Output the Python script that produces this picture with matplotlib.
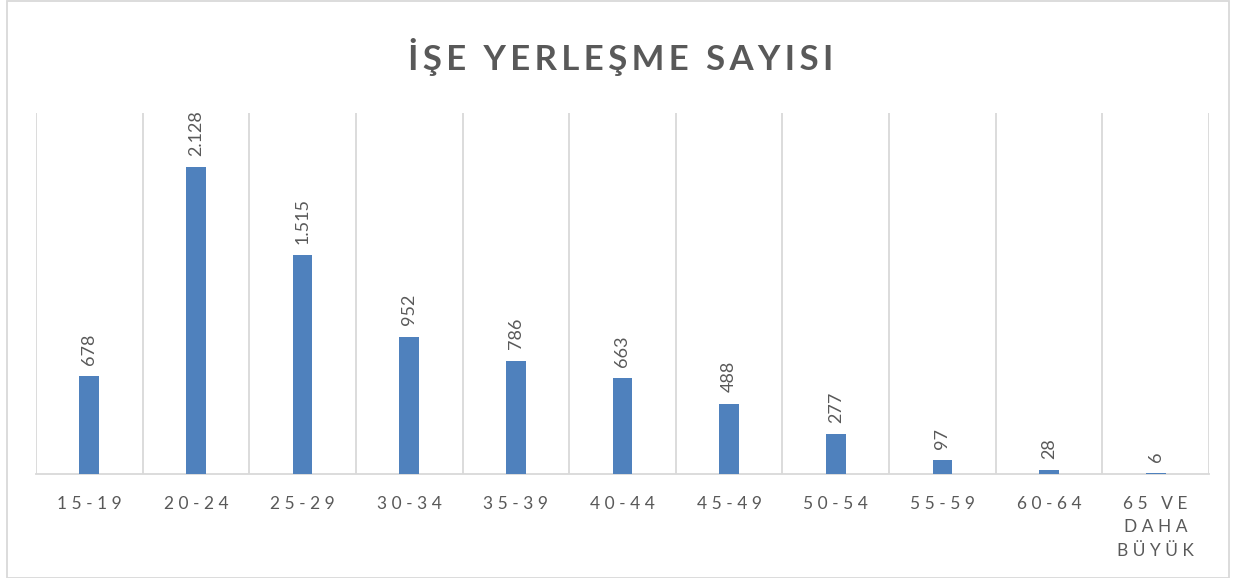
import matplotlib
matplotlib.use("Agg")
import matplotlib.pyplot as plt
from matplotlib.patches import Rectangle

categories = ["15-19", "20-24", "25-29", "30-34", "35-39", "40-44",
              "45-49", "50-54", "55-59", "60-64", "65 VE\nDAHA\nBÜYÜK"]
values = [678, 2128, 1515, 952, 786, 663, 488, 277, 97, 28, 6]
value_labels = ["678", "2.128", "1.515", "952", "786", "663", "488", "277", "97", "28", "6"]
title = "İŞE YERLEŞME SAYISI"

plt.rcParams['font.family'] = ['Lato', 'DejaVu Sans']
text_color = "#595959"
grid_color = "#D9D9D9"
bar_color = "#4F81BD"

def spaced(s, sep=" "):
    return "\n".join(sep.join(list(line)) for line in s.split("\n"))

fig = plt.figure(figsize=(12.38, 5.78), dpi=100)
W, H = 1238, 578
left, right, top, bottom = 36, 1209, 113, 474
ax = fig.add_axes([left / W, 1 - bottom / H, (right - left) / W, (bottom - top) / H])

x = list(range(len(categories)))
ax.bar(x, values, width=0.185, color=bar_color, zorder=3)
ax.set_xlim(-0.5, len(categories) - 0.5)
ax.set_ylim(0, 2500)

for i in range(len(categories) + 1):
    ax.axvline(i - 0.5, color=grid_color, lw=1.3, zorder=1)

for s in ["top", "right", "left"]:
    ax.spines[s].set_visible(False)
ax.spines["bottom"].set_color(grid_color)
ax.spines["bottom"].set_linewidth(1.3)
ax.set_yticks([])
ax.set_xticks(x)
ax.set_xticklabels([spaced(c) for c in categories], color=text_color,
                   fontsize=12.5, linespacing=1.55, va="top")
ax.tick_params(axis="x", length=0, pad=16)

for xi, v, lab in zip(x, values, value_labels):
    ax.annotate(lab, (xi, v), xytext=(0, 8), textcoords="offset points",
                rotation=90, ha="center", va="bottom", color=text_color,
                fontsize=13)

fig.text(621 / W, 1 - 57 / H, spaced(title, "\u2009"), ha="center", va="center",
         fontsize=25, fontweight="bold", color=text_color)

fig.patches.append(Rectangle((7 / W, 0), (1229 - 7) / W, 1 - 1 / H,
                             transform=fig.transFigure, fill=False,
                             edgecolor=grid_color, lw=1.3))

fig.savefig("out.png", dpi=100)
